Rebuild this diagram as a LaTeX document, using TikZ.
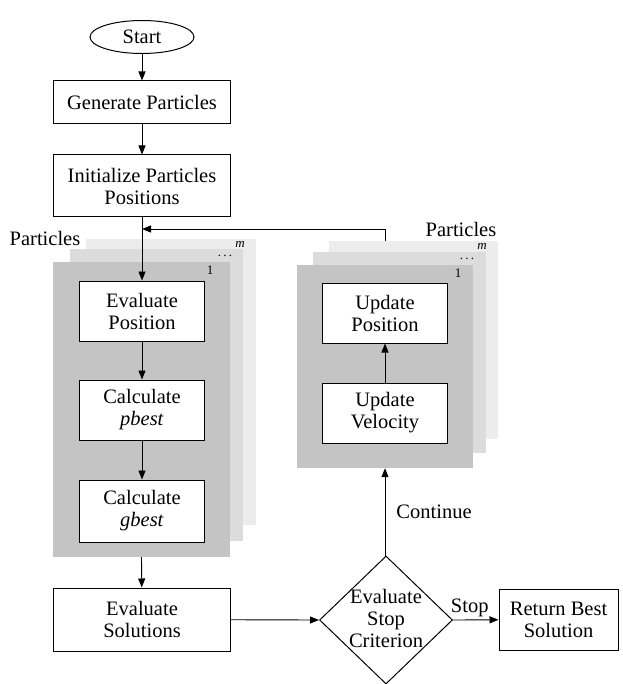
\documentclass[tikz,border=0pt]{standalone}
\usepackage{fontspec}
\setmainfont{Liberation Serif}
\usetikzlibrary{arrows.meta,shapes.geometric,positioning}
\definecolor{cardfront}{HTML}{C4C4C4}
\definecolor{cardmid}{HTML}{DCDCDC}
\definecolor{cardback}{HTML}{ECECEC}
\tikzset{
    block/.style={
    rectangle,draw=black,fill=white,line width=1pt,align=center,inner sep=0pt
    },
    wideblock/.style={
    block,minimum width=177pt
    },
    inblock/.style={
    block,minimum width=125pt,minimum height=60pt
    },
    terminal/.style={
    ellipse,draw=black,line width=1pt,minimum width=104pt,minimum height=33pt,inner sep=0pt
    },
    decision/.style={
    diamond,draw=black,line width=1pt,minimum width=133pt,minimum height=128pt,inner sep=0pt
    },
    card/.style={rectangle,draw=none,inner sep=0pt},
    idx/.style={font=\fontsize{13}{13}\selectfont,inner sep=0pt},
  line/.style={draw, line width=0.9pt, -{Triangle[length=9pt,width=7pt]}}
}
\begin{document}
\begin{tikzpicture}[x=1pt,y=-1pt,font=\fontsize{20.5}{22}\selectfont]
    \useasboundingbox (0,0) rectangle (622,684);

    % particle cards, left
    \node[card,fill=cardback,minimum width=170pt,minimum height=286pt] (lback) at (171,382) {};
    \node[card,fill=cardmid,minimum width=173pt,minimum height=292pt] (lmid) at (156.5,395) {};
    \node[card,fill=cardfront,minimum width=177pt,minimum height=295pt] (lfront) at (141.5,409.5) {};
    \node[idx] (lm) at (240,244) {\itshape m};
    \node[idx] (ldots) at (225,256) {.\,.\,.};
    \node[idx] (lone) at (210,270) {1};
    \node (lpart) at (45,238) {Particles};

    % particle cards, right
    \node[card,fill=cardback,minimum width=169pt,minimum height=198pt] (rback) at (413.5,340) {};
    \node[card,fill=cardmid,minimum width=173pt,minimum height=201pt] (rmid) at (399.5,352.5) {};
    \node[card,fill=cardfront,minimum width=176pt,minimum height=203pt] (rfront) at (385,366.5) {};
    \node[idx] (rm) at (482,246) {\itshape m};
    \node[idx] (rdots) at (467,259) {.\,.\,.};
    \node[idx] (rone) at (458,273) {1};
    \node (rpart) at (461,229) {Particles};

    \node[terminal] (start) at (142,37) {Start};
    \node[wideblock,minimum height=43pt] (gen) at (142,102.5) {Generate Particles};
    \node[wideblock,minimum height=62pt] (init) at (142,186) {Initialize Particles\\Positions};

    \node[inblock] (evalpos) at (142,311) {Evaluate\\Position};
    \node[inblock] (pbest) at (142,410) {Calculate\\\textit{pbest}};
    \node[inblock,minimum height=62pt] (gbest) at (142,511) {Calculate\\\textit{gbest}};

    \node[inblock] (updpos) at (385,313) {Update\\Position};
    \node[inblock] (updvel) at (385,413) {Update\\Velocity};

    \node[wideblock,minimum height=63pt] (evalsol) at (142,619.5) {Evaluate\\Solutions};
    \node[decision] (stopc) at (386,620) {};
    \node[align=center,inner sep=0pt] (stoptxt) at (386,618) {Evaluate\\Stop\\Criterion};
    \node[block,minimum width=119pt,minimum height=61pt] (best) at (558.5,619.5) {Return Best\\Solution};

    \coordinate (join) at (142,229);

    \begin{scope} [every path/.style=line]
      \path (start) -- (gen);
      \path (gen) -- (init);
      \path (init) -- (evalpos);
      \path (evalpos) -- (pbest);
      \path (pbest) -- (gbest);
      \path (lfront.south) -- (evalsol);
      \path (evalsol) -- (stopc.west);
      \path (stopc.east) -- node[above=3pt,xshift=-6pt,inner sep=0pt] (stoplbl) {Stop} (best);
      \path (stopc.north -| rfront.south) -- node[right=11pt,inner sep=0pt] (contlbl) {Continue} (rfront.south);
      \path (updvel) -- (updpos);
      \path (rback.north -| updpos.north) |- (join);
    \end{scope}

\end{tikzpicture}
\end{document}
